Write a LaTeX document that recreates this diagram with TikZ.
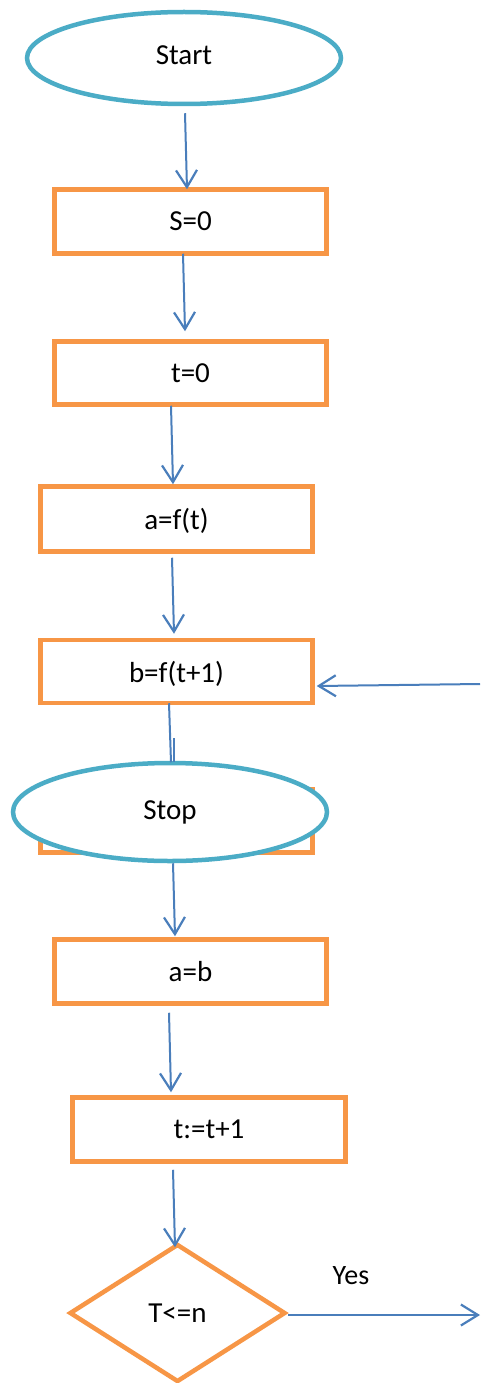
\documentclass[tikz,border=0pt]{standalone}
\usepackage{fontspec}
\setmainfont{Carlito}
\usetikzlibrary{arrows.meta,shapes.geometric}
\definecolor{boxorange}{HTML}{F79646}
\definecolor{termblue}{HTML}{4BACC6}
\definecolor{arrblue}{HTML}{4A7EBB}
\tikzset{
  procbox/.style={draw=boxorange,line width=4.5pt,fill=white,rectangle,minimum width=272pt,minimum height=64pt,inner sep=0pt,font=\fontsize{29}{34}\selectfont,text depth=0pt},
  termnode/.style={draw=termblue,line width=4.5pt,fill=white,ellipse,inner sep=0pt,font=\fontsize{29}{34}\selectfont,text depth=0pt},
  decnode/.style={draw=boxorange,line width=4.5pt,fill=white,diamond,inner sep=0pt,minimum width=216pt,minimum height=138pt,aspect=1.565,font=\fontsize{29}{34}\selectfont},
  arr/.style={draw=arrblue,line width=2pt,-{Straight Barb[length=17pt,width=21pt,line width=2.2pt]}},
  plainline/.style={draw=arrblue,line width=2pt},
  lbl/.style={font=\fontsize{28}{33}\selectfont,inner sep=0pt}
}
\begin{document}
\begin{tikzpicture}[x=1pt,y=-1pt]
\useasboundingbox (0,0) rectangle (480,1383);
% nodes
\node[termnode,minimum width=314pt,minimum height=92pt] (start) at (184,58) {\raisebox{6pt}{Start}};
\node[procbox] (s0) at (190.5,221.5) {S=0};
\node[procbox,minimum height=63pt] (t0) at (190.5,373) {t=0};
\node[procbox,minimum height=65pt] (af) at (176.5,519) {a=f(t)};
\node[procbox,minimum height=63pt] (bf) at (176.5,671.5) {b=f(t+1)};
\node[procbox,minimum height=63pt] (hid) at (176.5,821) {};
\node[termnode,minimum width=314pt,minimum height=98pt] (stop) at (170,812) {\raisebox{4pt}{Stop}};
\node[procbox] (ab) at (190.5,971.5) {a=b};
\node[procbox,minimum width=273pt] (tt) at (209,1129.5) {t:=t+1};
\node[decnode] (dec) at (177.5,1313) {T<=n};
\node[lbl] (yes) at (351,1276) {Yes};
\coordinate (rin) at (480,684);
\coordinate (yesend) at (480,1315);
\coordinate (stub) at (174,738);
% connectors
\draw[arr] ([shift={(1,7)}]start.south) -- ([shift={(-3.5,2)}]s0.north);
\draw[arr] ([shift={(-7.5,-2)}]s0.south) -- ([shift={(-5.5,-8)}]t0.north);
\draw[arr] ([shift={(-19.5,-1)}]t0.south) -- ([shift={(-3.5,0)}]af.north);
\draw[arr] ([shift={(-4.5,4)}]af.south) -- ([shift={(-2.5,-4)}]bf.north);
\draw[arr] (rin) -- ([shift={(2,14.5)}]bf.east);
\draw[plainline] ([shift={(-7.5,-2)}]bf.south) -- ([shift={(1,1.5)}]stop.north);
\draw[plainline] (stub) -- ([shift={(4,1.5)}]stop.north);
\draw[arr] ([shift={(3,0)}]stop.south) -- ([shift={(-15.5,-1)}]ab.north);
\draw[arr] ([shift={(-21.5,7)}]ab.south) -- ([shift={(-38,-3)}]tt.north);
\draw[arr] ([shift={(-36,6)}]tt.south) -- ([shift={(-2.5,5.5)}]dec.north);
\draw[arr] ([shift={(0,2)}]dec.east) -- (yesend);
\end{tikzpicture}
\end{document}
